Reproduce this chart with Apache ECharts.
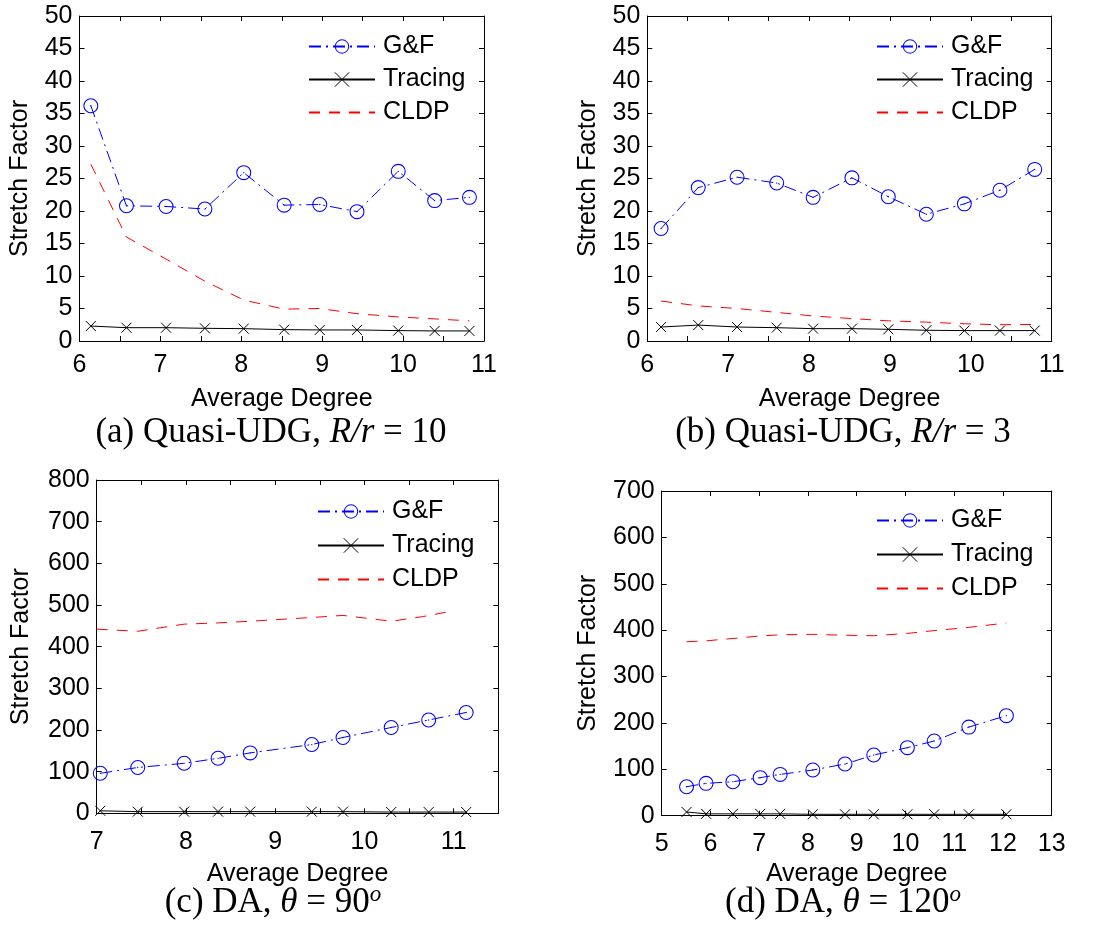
<!DOCTYPE html>
<html>
<head>
<meta charset="utf-8">
<script src="https://cdn.jsdelivr.net/npm/echarts/dist/echarts.min.js"></script>
<style>
  html, body { margin: 0; padding: 0; background: #fff; }
  #stretchChart { width: 1111px; height: 926px; }
</style>
</head>
<body>
<div id="stretchChart"></div>
<script>
// (a) Quasi-UDG, R/r = 10
const degreeA = [6.14, 6.58, 7.07, 7.55, 8.03, 8.53, 8.97, 9.43, 9.94, 10.39, 10.82];
const gfA = [36.2, 20.8, 20.7, 20.3, 25.9, 20.9, 21.0, 19.9, 26.1, 21.6, 22.1];
const tracingA = [2.3, 2.05, 2.05, 1.95, 1.9, 1.75, 1.7, 1.7, 1.6, 1.55, 1.55];
const cldpA = [27.2, 16.0, 12.6, 9.2, 6.3, 4.9, 5.0, 4.2, 3.7, 3.4, 3.1];

// (b) Quasi-UDG, R/r = 3
const degreeB = [6.17, 6.63, 7.11, 7.60, 8.05, 8.53, 8.98, 9.45, 9.92, 10.36, 10.79];
const gfB = [17.3, 23.6, 25.2, 24.3, 22.1, 25.1, 22.2, 19.5, 21.1, 23.2, 26.4];
const tracingB = [2.15, 2.45, 2.15, 2.05, 1.9, 1.9, 1.8, 1.65, 1.6, 1.6, 1.6];
const cldpB = [6.15, 5.4, 5.0, 4.4, 3.85, 3.45, 3.1, 2.9, 2.65, 2.5, 2.55];

// (c) DA, theta = 90
const degreeC = [7.04, 7.46, 7.98, 8.36, 8.72, 9.41, 9.76, 10.30, 10.72, 11.14];
const gfC = [96, 110, 120, 132, 145, 165, 182, 206, 224, 242];
const tracingC = [6, 4, 4, 4, 4, 4, 4, 3, 3, 3];
const cldpDegreeC = [7.0, 7.46, 7.98, 8.36, 8.72, 9.41, 9.76, 10.30, 10.65, 11.0];
const cldpC = [442, 437, 454, 457, 461, 470, 475, 461, 472, 486];

// (d) DA, theta = 120
const degreeD = [5.51, 5.91, 6.46, 7.02, 7.43, 8.10, 8.76, 9.35, 10.04, 10.59, 11.30, 12.07];
const gfD = [62.5, 69.7, 73.3, 82, 89, 98.5, 111.4, 130.8, 146.7, 161, 191, 215.7];
const tracingD = [8, 4, 4, 4, 4, 3, 3, 3, 3, 3, 3, 3];
const cldpD = [375, 377, 382, 387.5, 390, 391, 389, 388, 393, 399, 406, 415.5];

const seriesNames = ['G&F', 'Tracing', 'CLDP'];
const xAxisName = 'Average Degree';
const yAxisName = 'Stretch Factor';

const pairs = (xs, ys) => ys.map((y, i) => [xs[i], y]);

const panels = [
  {
    caption: '(a) Quasi-UDG, {i|R/r} = 10',
    x: { min: 6, max: 11, step: 0.5 }, y: { min: 0, max: 50, step: 5 },
    grid: { left: 79.5, top: 16, width: 404.5, height: 325 },
    yNameGap: 47, xNameGap: 46, xLabelMargin: 12,
    legend: { left: 308, top: 34, gap: 8 }, captionPos: [271, 413],
    lines: [pairs(degreeA, gfA), pairs(degreeA, tracingA), pairs(degreeA, cldpA)]
  },
  {
    caption: '(b) Quasi-UDG, {i|R/r} = 3',
    x: { min: 6, max: 11, step: 0.5 }, y: { min: 0, max: 50, step: 5 },
    grid: { left: 647.3, top: 16, width: 404.4, height: 325 },
    yNameGap: 47, xNameGap: 46, xLabelMargin: 12,
    legend: { left: 876, top: 34, gap: 8 }, captionPos: [843, 413],
    lines: [pairs(degreeB, gfB), pairs(degreeB, tracingB), pairs(degreeB, cldpB)]
  },
  {
    caption: '(c) DA, {i|θ} = 90{s|o}',
    x: { min: 7, max: 11.5, step: 0.5 }, y: { min: 0, max: 800, step: 100 },
    grid: { left: 96.7, top: 480, width: 401.6, height: 333.3 },
    yNameGap: 63, xNameGap: 48, xLabelMargin: 16,
    legend: { left: 317, top: 499, gap: 9 }, captionPos: [273, 883],
    lines: [pairs(degreeC, gfC), pairs(degreeC, tracingC), pairs(cldpDegreeC, cldpC)]
  },
  {
    caption: '(d) DA, {i|θ} = 120{s|o}',
    x: { min: 5, max: 13, step: 1 }, y: { min: 0, max: 700, step: 100 },
    grid: { left: 661.7, top: 491, width: 390, height: 324.7 },
    yNameGap: 61, xNameGap: 46, xLabelMargin: 16,
    legend: { left: 876, top: 508, gap: 9 }, captionPos: [843, 883],
    lines: [pairs(degreeD, gfD), pairs(degreeD, tracingD), pairs(degreeD, cldpD)]
  }
];

const SANS = 'Liberation Sans, Arial, Helvetica, sans-serif';
const SERIF = 'Liberation Serif, Times New Roman, serif';

// open circle (ring) with a small centre dot, and an "x" cross
const ringSymbol = 'path://M10,0A10,10,0,1,1,-10,0A10,10,0,1,1,10,0Z' +
  'M8.6,0A8.6,8.6,0,1,0,-8.6,0A8.6,8.6,0,1,0,8.6,0Z' +
  'M0.9,0A0.9,0.9,0,1,1,-0.9,0A0.9,0.9,0,1,1,0.9,0Z';
const crossSymbol = 'path://M0,0L10,10M10,0L0,10';

const seriesStyles = [
  {
    symbol: ringSymbol, symbolSize: 15,
    lineStyle: { color: '#0000ff', width: 1, type: [12, 5, 2, 5] },
    itemStyle: { color: '#0000ff', borderWidth: 0 }
  },
  {
    symbol: crossSymbol, symbolSize: 10,
    lineStyle: { color: '#000000', width: 1, type: 'solid' },
    itemStyle: { color: '#000000', borderColor: '#000000', borderWidth: 1 }
  },
  {
    symbol: 'none', symbolSize: 0,
    lineStyle: { color: '#ff0000', width: 1, type: [11, 9] },
    itemStyle: { color: '#ff0000' }
  }
];

// legend entries: thin cross for Tracing, no marker for CLDP
const legendItems = [
  { name: seriesNames[0] },
  { name: seriesNames[1], itemStyle: { borderWidth: 1 } },
  { name: seriesNames[2], itemStyle: { opacity: 0 } }
];

const axisLine = { show: true, onZero: false, lineStyle: { color: '#000', width: 1 } };
const axisTick = { show: true, inside: true, length: 5, lineStyle: { color: '#000', width: 1 } };

const grid = [], xAxis = [], yAxis = [], series = [], legend = [], title = [];

panels.forEach((p, i) => {
  grid.push(Object.assign({ containLabel: false, outerBoundsMode: 'none' }, p.grid));

  xAxis.push({
    type: 'value', gridIndex: i, position: 'bottom',
    min: p.x.min, max: p.x.max, interval: p.x.step,
    axisLine, axisTick, splitLine: { show: false },
    axisLabel: {
      fontSize: 25, color: '#000', fontFamily: SANS, margin: p.xLabelMargin,
      hideOverlap: false,
      formatter: v => (Math.abs(v - Math.round(v)) < 1e-9 ? String(Math.round(v)) : '')
    },
    name: xAxisName, nameLocation: 'middle', nameGap: p.xNameGap,
    nameTextStyle: { fontSize: 25, color: '#000', fontFamily: SANS }
  });
  xAxis.push({
    type: 'value', gridIndex: i, position: 'top',
    min: p.x.min, max: p.x.max, interval: p.x.step,
    axisLine, axisTick, axisLabel: { show: false }, splitLine: { show: false }
  });

  yAxis.push({
    type: 'value', gridIndex: i, position: 'left',
    min: p.y.min, max: p.y.max, interval: p.y.step,
    axisLine, axisTick, splitLine: { show: false },
    axisLabel: { fontSize: 25, color: '#000', fontFamily: SANS, margin: 7, hideOverlap: false },
    name: yAxisName, nameLocation: 'middle', nameGap: p.yNameGap,
    nameTextStyle: { fontSize: 25, color: '#000', fontFamily: SANS }
  });
  yAxis.push({
    type: 'value', gridIndex: i, position: 'right',
    min: p.y.min, max: p.y.max, interval: p.y.step,
    axisLine, axisTick, axisLabel: { show: false }, splitLine: { show: false }
  });

  seriesNames.forEach((name, k) => {
    series.push(Object.assign({
      type: 'line', name,
      xAxisIndex: 2 * i, yAxisIndex: 2 * i,
      data: p.lines[k],
      showAllSymbol: true, silent: true, z: 3 - k
    }, seriesStyles[k]));
  });

  legend.push({
    orient: 'vertical', left: p.legend.left, top: p.legend.top,
    padding: 0, itemWidth: 66, itemHeight: 18, itemGap: p.legend.gap,
    selectedMode: false, data: legendItems,
    textStyle: { fontSize: 25, color: '#000', fontFamily: SANS, padding: [0, 0, 0, 3] }
  });

  title.push({
    text: p.caption, left: p.captionPos[0], top: p.captionPos[1],
    textAlign: 'center', padding: 0,
    textStyle: {
      fontSize: 35, fontWeight: 'normal', color: '#000', fontFamily: SERIF, lineHeight: 40,
      rich: {
        i: { fontSize: 35, fontStyle: 'italic', fontFamily: SERIF, color: '#000', lineHeight: 40 },
        s: { fontSize: 23, fontStyle: 'italic', fontFamily: SERIF, color: '#000', lineHeight: 22, verticalAlign: 'top' }
      }
    }
  });
});

const myChart = echarts.init(document.getElementById('stretchChart'), null, { renderer: 'canvas' });
myChart.setOption({
  animation: false,
  backgroundColor: '#ffffff',
  title, legend, grid, xAxis, yAxis, series
});
</script>
</body>
</html>
